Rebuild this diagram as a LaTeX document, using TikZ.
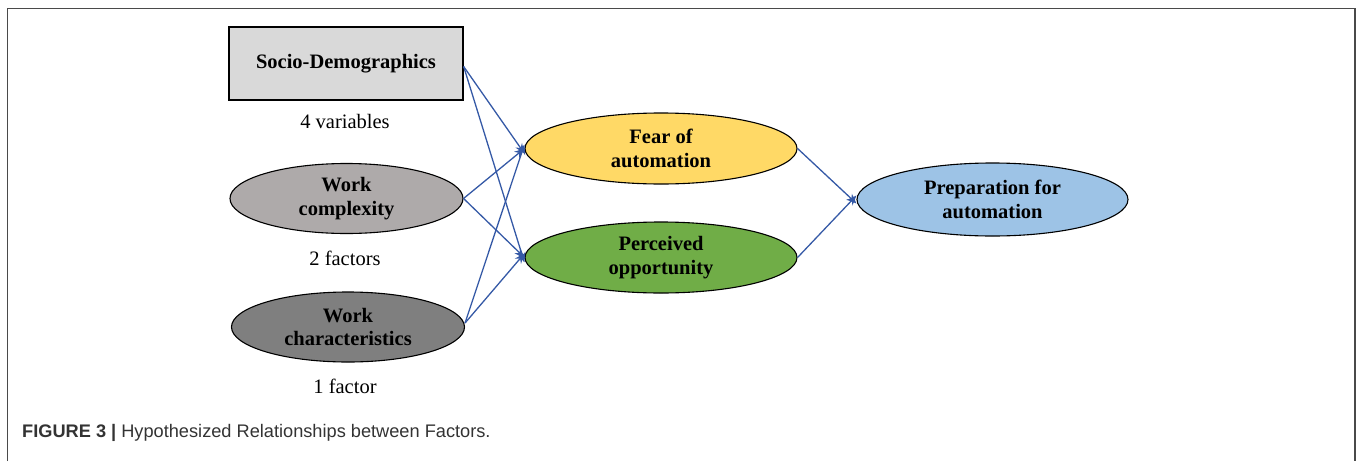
\documentclass[tikz,border=0pt]{standalone}
\usepackage{fontspec}
\setmainfont{Liberation Serif}
\newfontfamily\capfont{Liberation Sans}
\usetikzlibrary{shapes.geometric,arrows.meta}
\definecolor{arrowblue}{HTML}{3559A6}
\definecolor{framegray}{HTML}{4A4A4A}
\definecolor{capgray}{HTML}{333333}
\definecolor{sociofill}{HTML}{D9D9D9}
\definecolor{complfill}{HTML}{AEAAAA}
\definecolor{charfill}{HTML}{7F7F7F}
\definecolor{fearfill}{HTML}{FFD966}
\definecolor{oppfill}{HTML}{70AD47}
\definecolor{prepfill}{HTML}{9DC3E6}
\tikzset{
  boxtext/.style={font=\fontsize{20.5}{23.5}\selectfont\bfseries, align=center, text=black},
  ovalnode/.style={boxtext, ellipse, draw=black, line width=1.1pt, inner sep=0pt},
  leftoval/.style={ovalnode, minimum width=233pt, minimum height=70pt},
  midoval/.style={ovalnode, minimum width=272pt, minimum height=71pt},
  countlabel/.style={font=\fontsize{20.5}{24}\selectfont, text=black},
  link/.style={draw=arrowblue, line width=1.3pt, -{Stealth[length=10pt,width=8pt]}},
}
\begin{document}
\begin{tikzpicture}[x=1pt,y=-1pt]
\useasboundingbox (0,0) rectangle (1357,461);
\draw[framegray, line width=1.5pt] (7.5,461) -- (7.5,8.5) -- (1355,8.5) -- (1355,461);

\node[boxtext, draw=black, line width=1.3pt, fill=sociofill, minimum width=234pt, minimum height=73pt, inner sep=0pt] (socio) at (346,63.5) {Socio-Demographics};
\node[countlabel] (socioc) at (345,121) {4 variables};

\node[leftoval, fill=complfill] (compl) at (346.5,198.5) {Work\\complexity};
\node[countlabel] (complc) at (345,258) {2 factors};

\node[leftoval, fill=charfill] (char) at (348,327) {Work\\characteristics};
\node[countlabel] (charc) at (345,386) {1 factor};

\node[midoval, fill=fearfill] (fear) at (661,148.5) {Fear of\\automation};
\node[midoval, fill=oppfill] (opp) at (661,257.5) {Perceived\\opportunity};

\node[ovalnode, fill=prepfill, minimum width=271pt, minimum height=73pt] (prep) at (992.5,199.5) {Preparation for\\automation};

\draw[link] ([yshift=-3pt]socio.east) -- ([yshift=-5pt]fear.west);
\draw[link] ([yshift=-3pt]socio.east) -- ([yshift=-5pt]opp.west);
\draw[link] (compl.east) -- (fear.west);
\draw[link] (compl.east) -- (opp.west);
\draw[link] ([yshift=4pt]char.east) -- ([yshift=4pt]fear.west);
\draw[link] ([yshift=4pt]char.east) -- ([yshift=4pt]opp.west);
\draw[link] (fear.east) -- ([yshift=-4pt]prep.west);
\draw[link] (opp.east) -- ([yshift=4pt]prep.west);

\node[anchor=base west, text=capgray, font=\capfont\fontsize{18.2}{21}\selectfont, inner sep=0pt] (caption) at (22,437) {\textbf{FIGURE 3 |} Hypothesized Relationships between Factors.};
\end{tikzpicture}
\end{document}
